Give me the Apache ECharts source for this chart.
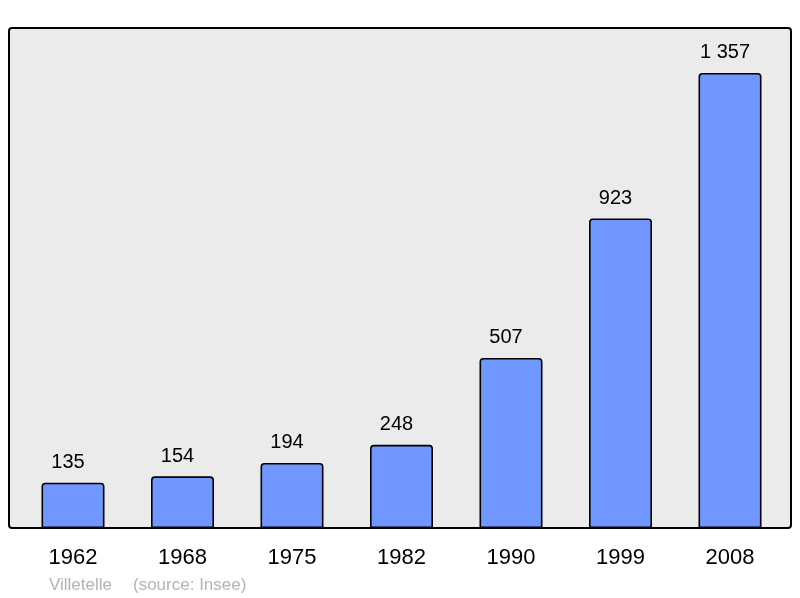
<!DOCTYPE html>
<html><head><meta charset="utf-8">
<script src="https://cdn.jsdelivr.net/npm/echarts@6/dist/echarts.min.js"></script>
<style>html,body{margin:0;padding:0;background:#fff}#c{width:800px;height:598px}</style>
</head><body><div id="c"></div>
<script>
var years = ['1962','1968','1975','1982','1990','1999','2008'];
var population = [135,154,194,248,507,923,1357];
var labels = ['135','154','194','248','507','923','1 357'];

var FONT = '"Liberation Sans", Arial, sans-serif';
var chart = echarts.init(document.getElementById('c'), null, {renderer:'canvas'});
chart.setOption({
  animation:false,
  backgroundColor:'#ffffff',
  graphic:[
    {type:'rect', z:-10, shape:{x:9,y:28,width:782,height:500,r:3}, style:{fill:'#ebebeb',stroke:'#000',lineWidth:2}},
    {type:'text', left:49, top:577, style:{text:'Villetelle', fill:'#b3b3b3', font:'17px ' + FONT}},
    {type:'text', left:133, top:577, style:{text:'(source: Insee)', fill:'#b3b3b3', font:'17px ' + FONT}}
  ],
  grid:{left:18.25, width:766.5, top:28, height:500},
  xAxis:{type:'category', data:years, axisLine:{show:false}, axisTick:{show:false},
    axisLabel:{color:'#000', fontSize:22, margin:19, fontFamily:FONT}},
  yAxis:{type:'value', min:0, max:1491, show:false, splitLine:{show:false}},
  series:[{type:'bar', data:population, barWidth:63,
    itemStyle:{color:'#7097ff', borderColor:'#000', borderWidth:1.6, borderRadius:[3,3,0,0]},
    label:{show:true, position:'top', distance:10, offset:[-5,0], color:'#000', fontSize:20,
      fontFamily:FONT,
      formatter:function(p){return labels[p.dataIndex];}}
  }]
});
</script></body></html>
